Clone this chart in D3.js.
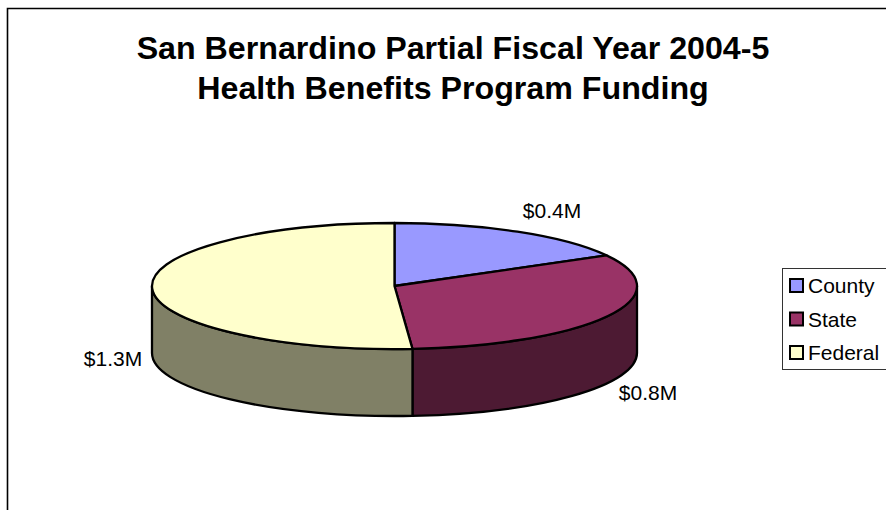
<!DOCTYPE html>
<html>
<head>
<meta charset="utf-8">
<script src="https://cdn.jsdelivr.net/npm/d3@7"></script>
<style>
  html, body { margin: 0; padding: 0; background: #fff; }
  svg { display: block; }
  text { font-family: "Liberation Sans", Arial, sans-serif; fill: #000; }
</style>
</head>
<body>
<svg id="chart" width="886" height="510"></svg>
<script>
// Funding by source, in millions of dollars
const categories = ["County", "State", "Federal"];
const values = [0.43, 0.81, 1.30];
const topColors = ["#9999ff", "#993366", "#ffffcc"];
const sideColors = ["#4d4d80", "#4d1a33", "#808066"];
const titleLines = ["San Bernardino Partial Fiscal Year 2004-5", "Health Benefits Program Funding"];

const svg = d3.select("#chart");
const W = 886, H = 510;

// Open frame: only the top and left edges fall inside the page
svg.append("path")
  .attr("d", `M7.5,${H}V8.5H${W}`)
  .attr("fill", "none")
  .attr("stroke", "#000")
  .attr("stroke-width", 1.6);

svg.append("g").selectAll("text")
  .data(titleLines)
  .join("text")
  .attr("x", 453)
  .attr("y", (d, i) => 59 + i * 40)
  .attr("text-anchor", "middle")
  .attr("font-size", 32.2)
  .attr("font-weight", "bold")
  .text(d => d);

// Flattened pie: a circular layout projected on to an ellipse
const cx = 394.5, cy = 286, rx = 242.5, ry = 63, depth = 67;
const pie = d3.pie().sort(null).value(d => d);
const arcs = pie(values);
const px = a => cx + rx * Math.sin(a);
const py = a => cy - ry * Math.cos(a);

const topPath = d => {
  const large = d.endAngle - d.startAngle > Math.PI ? 1 : 0;
  return `M${cx},${cy}L${px(d.startAngle)},${py(d.startAngle)}` +
         `A${rx},${ry} 0 ${large} 1 ${px(d.endAngle)},${py(d.endAngle)}Z`;
};

// Only the part of a slice on the near half of the ellipse shows a wall
const sidePath = d => {
  const a0 = Math.max(d.startAngle, Math.PI / 2);
  const a1 = Math.min(d.endAngle, 3 * Math.PI / 2);
  if (a1 <= a0) return null;
  return `M${px(a0)},${py(a0)}` +
         `A${rx},${ry} 0 0 1 ${px(a1)},${py(a1)}` +
         `V${py(a1) + depth}` +
         `A${rx},${ry} 0 0 0 ${px(a0)},${py(a0) + depth}Z`;
};

const pieG = svg.append("g")
  .attr("stroke", "#000")
  .attr("stroke-width", 2.3)
  .attr("stroke-linejoin", "round");

pieG.selectAll("path.side")
  .data(arcs.filter(sidePath))
  .join("path")
  .attr("class", "side")
  .attr("d", sidePath)
  .attr("fill", d => sideColors[d.index]);

pieG.selectAll("path.top")
  .data(arcs)
  .join("path")
  .attr("class", "top")
  .attr("d", topPath)
  .attr("fill", d => topColors[d.index]);

// Value labels
const fmt = v => `$${d3.format(".1f")(v)}M`;
const labelPos = [
  { anchor: 552, base: 218 },
  { anchor: 648, base: 400 },
  { anchor: 113, base: 366 }
];
svg.append("g").selectAll("text")
  .data(arcs)
  .join("text")
  .attr("x", d => labelPos[d.index].anchor)
  .attr("y", d => labelPos[d.index].base)
  .attr("text-anchor", "middle")
  .attr("font-size", 21)
  .text(d => fmt(d.data));

// Legend
const legend = svg.append("g");
legend.append("rect")
  .attr("x", 782.5).attr("y", 268.5)
  .attr("width", 110).attr("height", 101)
  .attr("fill", "#fff")
  .attr("stroke", "#333")
  .attr("stroke-width", 1);

const rowY = d3.scalePoint().domain(categories).range([285.5, 352.5]);
const rows = legend.selectAll("g")
  .data(categories)
  .join("g")
  .attr("transform", d => `translate(0,${rowY(d)})`);
rows.append("rect")
  .attr("x", 790).attr("y", -6.5)
  .attr("width", 13).attr("height", 13)
  .attr("fill", (d, i) => topColors[i])
  .attr("stroke", "#000")
  .attr("stroke-width", 2);
rows.append("text")
  .attr("x", 808).attr("y", 7.5)
  .attr("font-size", 21)
  .text(d => d);
</script>
</body>
</html>
